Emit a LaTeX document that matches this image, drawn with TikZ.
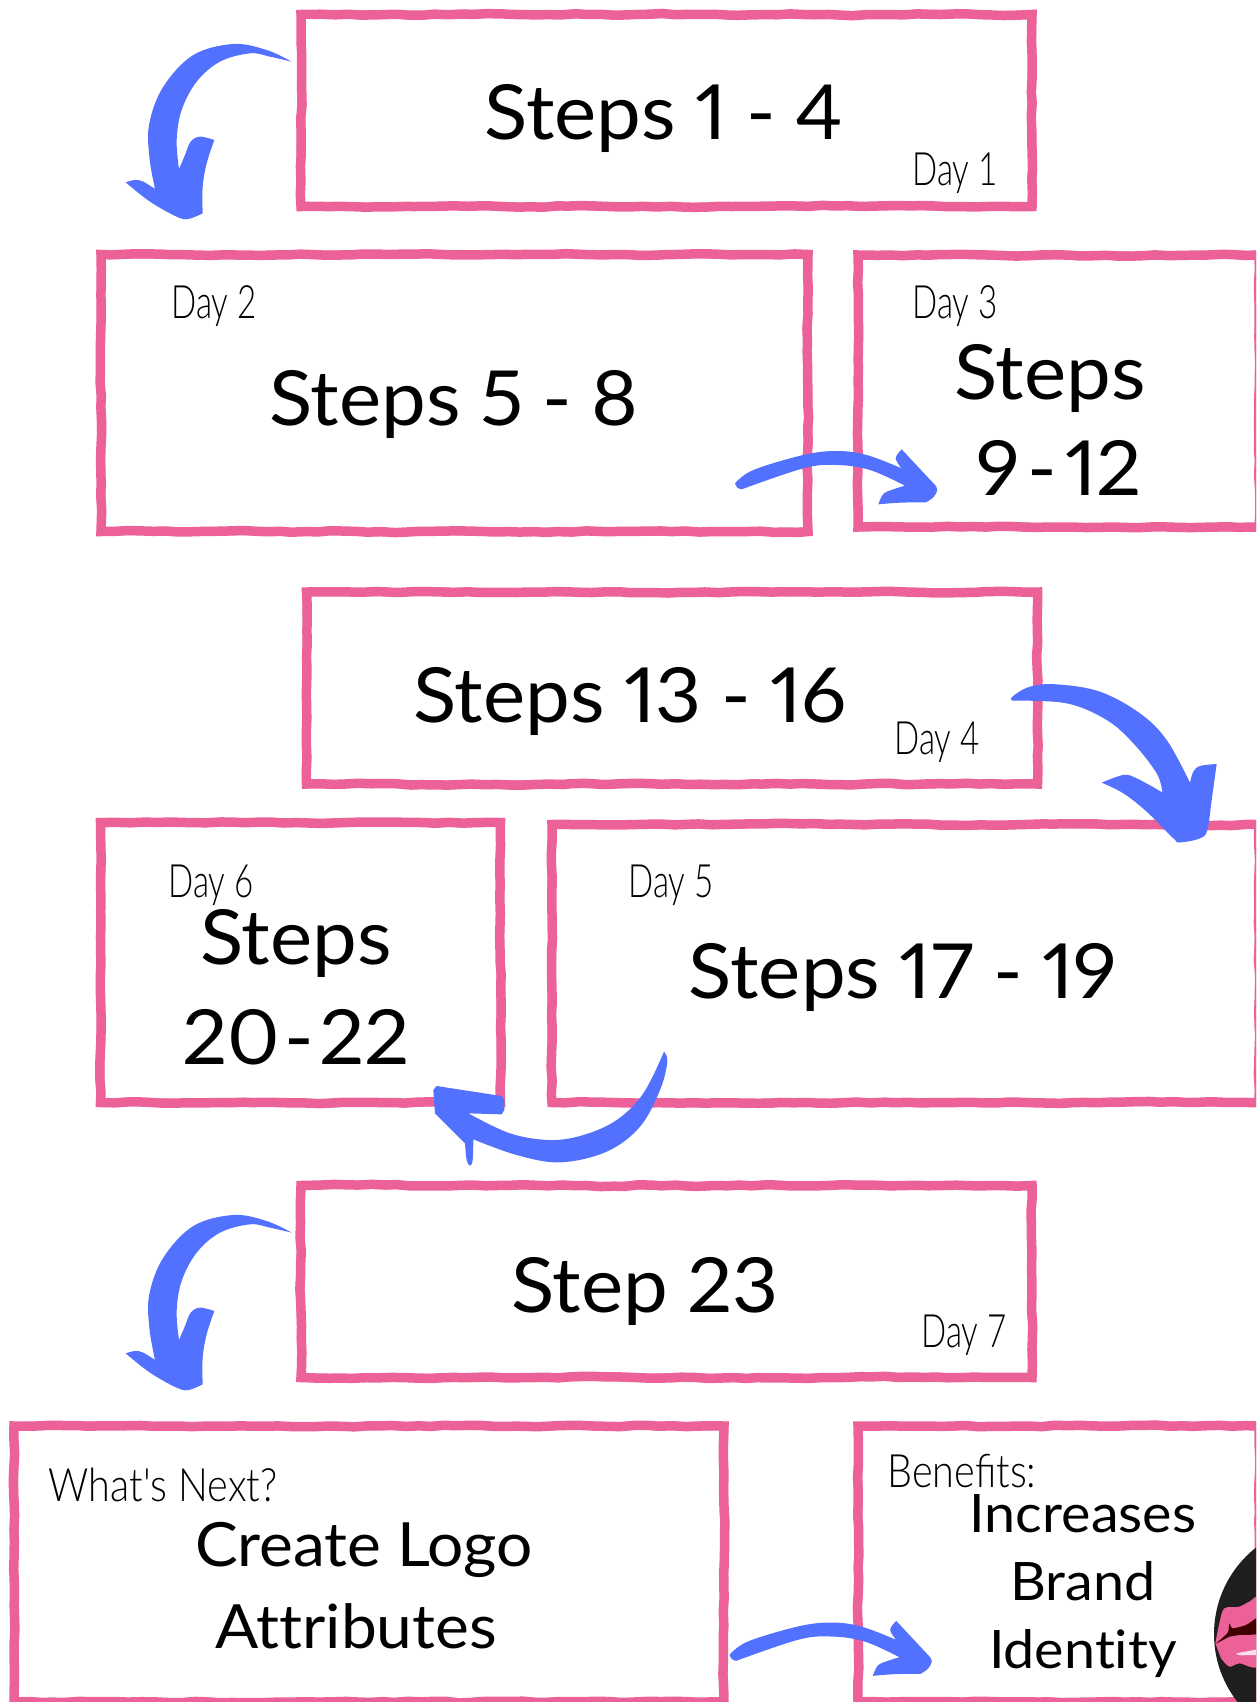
\documentclass[tikz,border=0pt]{standalone}
\usepackage{fontspec}
\usetikzlibrary{decorations.pathmorphing}
\setmainfont[FakeStretch=1.05,WordSpace=0.95,Numbers=Proportional,Ligatures=NoCommon]{Lato}
\newfontfamily\handfont[FakeStretch=0.72]{Lato Light}
\newfontfamily\handwide[FakeStretch=0.86]{Lato Light}
\definecolor{boxpink}{HTML}{EC6198}
\definecolor{arrowblue}{HTML}{5271FF}
\tikzset{
  stepbox/.style={draw=boxpink,line width=8pt,decorate,decoration={random steps,segment length=38pt,amplitude=0.7pt},inner sep=0pt,
    preaction={draw=boxpink,line width=9.5pt,decorate,decoration={random steps,segment length=14pt,amplitude=0.7pt}}},
  bigtext/.style={font=\fontsize{76}{76}\selectfont,text=black,anchor=base,inner sep=0pt},
  midtext/.style={font=\fontsize{61}{61}\selectfont,text=black,anchor=base,inner sep=0pt},
  smalltext/.style={font=\fontsize{53}{53}\selectfont,text=black,anchor=base,inner sep=0pt},
  daytext/.style={font=\handfont\fontsize{46}{46}\selectfont,text=black,anchor=base,inner sep=0pt},
  widetext/.style={font=\handwide\fontsize{46}{46}\selectfont,text=black,anchor=base,inner sep=0pt},
  brush/.style={fill=arrowblue,draw=none},
  zoomed/.style={x=0.33333pt,y=-0.33333pt}
}
\newcommand{\bigbend}{%
  \fill[brush] plot[smooth,tension=.6] coordinates {(695,185)(620,150)(520,132)(400,165)(310,260)(268,370)(268,470)(285,567)}
   -- plot[smooth,tension=.6] coordinates {(285,567)(250,545)(225,540)(197,547)}
   -- plot[smooth,tension=.6] coordinates {(197,547)(270,605)(350,650)(385,657)(428,640)}
   -- plot[smooth,tension=.6] coordinates {(428,640)(428,560)(440,490)(463,420)}
   -- plot[smooth,tension=.6] coordinates {(463,420)(420,410)(392,425)(375,465)(357,507)}
   -- plot[smooth,tension=.6] coordinates {(357,507)(350,420)(365,330)(410,245)(480,185)(570,160)(630,170)(695,185)} -- cycle;}
\newcommand{\flatarc}{%
  \fill[brush] plot[smooth,tension=.6] coordinates {(45,190)(100,150)(250,105)(350,93)(440,105)(545,145)}
   -- plot[smooth,tension=.6] coordinates {(545,145)(527,115)(545,88)}
   -- (645,195) -- plot[smooth,tension=.6] coordinates {(645,195)(652,210)(640,232)(618,247)}
   -- plot[smooth,tension=.6] coordinates {(618,247)(540,248)(475,253)}
   -- plot[smooth,tension=.6] coordinates {(475,253)(490,222)(520,208)(555,197)}
   -- plot[smooth,tension=.6] coordinates {(555,197)(450,150)(350,135)(250,145)(65,208)}
   -- plot[smooth,tension=.6] coordinates {(65,208)(52,203)(45,190)} -- cycle;}
\begin{document}
\begin{tikzpicture}[x=1pt,y=-1pt]
\useasboundingbox (0,0) rectangle (1256,1702);
\pgfmathsetseed{7}
\begin{scope}
\clip (0,0) rectangle (1256,1702);
% boxes
\node[stepbox,minimum width=731pt,minimum height=192pt] (b1) at (666.5,110.5) {};
\node[stepbox,minimum width=707pt,minimum height=277pt] (b2) at (454.5,393) {};
\node[stepbox,minimum width=401pt,minimum height=272pt] (b3) at (1058.5,391) {};
\node[stepbox,minimum width=731pt,minimum height=192pt] (b4) at (672,688) {};
\node[stepbox,minimum width=400pt,minimum height=280pt] (b6) at (300.5,962.5) {};
\node[stepbox,minimum width=707pt,minimum height=278pt] (b5) at (905.5,963.5) {};
\node[stepbox,minimum width=731pt,minimum height=192pt] (b7) at (666.5,1281.5) {};
\node[stepbox,minimum width=710pt,minimum height=276pt] (b8) at (369,1564) {};
\node[stepbox,minimum width=401pt,minimum height=276pt] (b9) at (1058.5,1564) {};
% emblem
\fill[black!88] (1324,1634) circle (110);
\begin{scope}[shift={(1196,1540)},x=0.33333pt,y=-0.33333pt]
\fill[boxpink] plot[smooth,tension=.5] coordinates {(58,310)(70,250)(85,205)(130,200)(160,185)(190,180)(190,372)(130,370)(100,380)(75,355)} -- cycle;
\fill[black!75!red] plot[smooth,tension=.4] coordinates {(58,312)(95,278)(100,250)(110,265)(150,255)(180,235)(190,232)(190,280)(130,285)(100,290)} -- cycle;
\fill[white!80!boxpink] (120,340) -- (185,328) -- (185,345) -- (130,346) -- cycle;
\end{scope}
\end{scope}
% texts
\node[bigtext] (t1) at (664,139) {Steps 1 - 4};
\node[daytext] (d1) at (955,185) {Day 1};
\node[daytext] (d2) at (214,318) {Day 2};
\node[bigtext] (t2) at (454,425) {Steps 5 - 8};
\node[daytext] (d3) at (955,318) {Day 3};
\node[bigtext] (t3a) at (1050,399) {Steps};
\node[bigtext] (t3b) at (1059,495) {\spaceskip=8pt\relax 9 - 12};
\node[bigtext] (t4) at (630,722) {Steps 13 - 16};
\node[daytext] (d4) at (937,754) {Day 4};
\node[daytext] (d6) at (211,897) {Day 6};
\node[bigtext] (t6a) at (296,964) {Steps};
\node[bigtext] (t6b) at (296,1064) {\spaceskip=5pt\relax 20 - 22};
\node[daytext] (d5) at (671,897) {Day 5};
\node[bigtext] (t5) at (903,998) {Steps 17 - 19};
\node[bigtext] (t7) at (645,1312) {Step 23};
\node[daytext] (d7) at (964,1347) {Day 7};
\node[widetext] (d8) at (163,1501) {What's Next?};
\node[midtext] (t8a) at (364,1566) {Create Logo};
\node[midtext] (t8b) at (356,1648) {Attributes};
\node[widetext] (d9) at (962,1487) {Benefits:};
\node[smalltext] (t9a) at (1083,1532) {Increases};
\node[smalltext] (t9b) at (1083,1600) {Brand};
\node[smalltext] (t9c) at (1083,1668) {Identity};
% connectors
\coordinate (a1) at (60,0);
\coordinate (a2) at (720,420);
\coordinate (a3) at (1000,660);
\coordinate (a4) at (400,1020);
\coordinate (a5) at (60,1171);
\coordinate (a6) at (714.5,1591.5);
\begin{scope}[shift={(a1)},zoomed]\bigbend\end{scope}
\begin{scope}[shift={(a5)},zoomed]\bigbend\end{scope}
\begin{scope}[shift={(a2)},zoomed]\flatarc\end{scope}
\begin{scope}[shift={(a6)},zoomed]\flatarc\end{scope}
\begin{scope}[shift={(a3)},zoomed]
\fill[brush] plot[smooth,tension=.6] coordinates {(37,122)(37,110)(90,80)(170,73)(300,95)(420,160)(500,240)(570,368)}
 -- plot[smooth,tension=.6] coordinates {(570,368)(580,335)(600,318)(650,312)}
 -- plot[smooth,tension=.6] coordinates {(650,312)(635,420)(622,510)(600,535)(540,547)(520,535)(440,455)(370,400)(305,368)}
 -- plot[smooth,tension=.6] coordinates {(305,368)(370,345)(410,355)(487,397)}
 -- plot[smooth,tension=.6] coordinates {(487,397)(470,340)(400,250)(320,180)(200,130)(37,122)} -- cycle;
\end{scope}
\begin{scope}[shift={(a4)},zoomed]
\fill[brush] plot[smooth,tension=.6] coordinates {(792,95)(802,125)(780,210)(720,320)(620,395)(480,427)(350,405)(220,358)}
 -- plot[smooth,tension=.6] coordinates {(220,358)(218,420)(210,437)(200,420)(195,370)}
 -- (105,280) -- (100,210) -- (110,198) -- (305,228) -- (313,240) -- (313,270) -- (305,283) -- (205,280)
 -- plot[smooth,tension=.6] coordinates {(205,280)(330,340)(450,360)(550,345)(650,300)(730,220)(792,95)} -- cycle;
\end{scope}
\end{tikzpicture}
\end{document}
